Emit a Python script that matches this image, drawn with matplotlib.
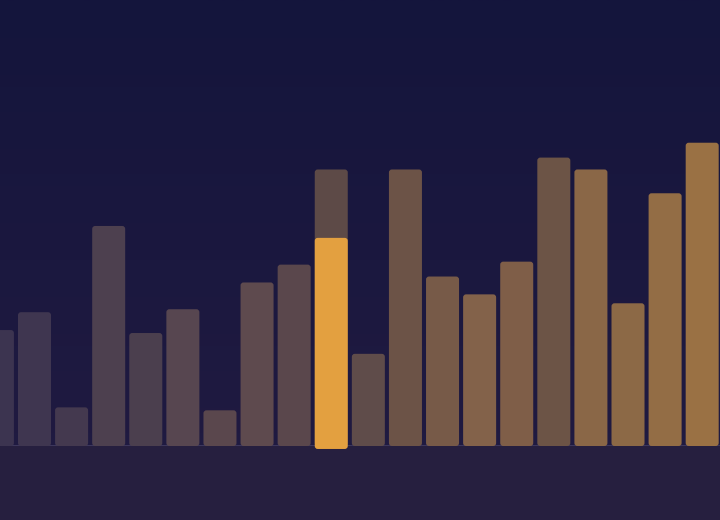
import numpy as np
import matplotlib
matplotlib.use("Agg")
import matplotlib.pyplot as plt
from matplotlib.colors import LinearSegmentedColormap
from matplotlib.patches import FancyBboxPatch

# bar values (one per category), index 9 is the highlighted one
values = [39, 45, 13, 74, 38, 46, 12, 55, 61, 93, 31, 93, 57, 51, 62, 97, 93, 48, 85, 102]
highlight_idx = 9
highlight_value = 70
bar_colors = [
    "#3c3450", "#3f3650", "#44394f", "#4d404f", "#4b3f4e",
    "#574650", "#5a474d", "#5e4a4e", "#5a474c", "#5d4a47",
    "#5f4c4a", "#6c5347", "#775a48", "#83624a", "#7f5e48",
    "#6c5446", "#8a6747", "#8c6946", "#936d45", "#9a7144",
]
highlight_color = "#e3a040"

W, H = 720, 520
base_px = 446
fig = plt.figure(figsize=(W / 100, H / 100), dpi=100)

# background gradient + lower band
bg = fig.add_axes([0, 0, 1, 1])
bg.set_axis_off()
grad = LinearSegmentedColormap.from_list("bg", ["#14153c", "#221b42"])
g = np.linspace(0, 1, 256).reshape(-1, 1)
bg.imshow(g, aspect="auto", cmap=grad, extent=[0, 1, 0, 1], origin="upper")
bg.add_patch(plt.Rectangle((0, 0), 1, (H - base_px) / H, color="#261f3f", zorder=2))
bg.set_xlim(0, 1)
bg.set_ylim(0, 1)

ax = fig.add_axes([0, (H - base_px) / H, 1, base_px / H])
ax.patch.set_alpha(0)
ax.set_xlim(0.07, 19.48)
ax.set_ylim(0, 150)
ax.set_axis_off()

x = np.arange(len(values))
bars = ax.bar(x, values, width=0.89, color=bar_colors)
hbar = ax.bar(highlight_idx, highlight_value + 1, bottom=-1, width=0.89, color=highlight_color)

# swap plain rectangles for rounded ones (~3px corner radius)
rx = 0.08
aspect = 1.0 / rx


def round_bars(container, z):
    for r in container.patches:
        fb = FancyBboxPatch((r.get_x(), r.get_y()), r.get_width(), r.get_height(),
                            boxstyle=f"round,pad=0,rounding_size={rx}",
                            mutation_aspect=aspect, facecolor=r.get_facecolor(),
                            edgecolor="none", zorder=z, clip_on=False)
        ax.add_patch(fb)
        r.remove()


round_bars(bars, 2)
round_bars(hbar, 3)
ax.axhline(0, color="#433d62", linewidth=1.2, zorder=1)

fig.savefig("out.png", dpi=100, facecolor="#14153c")
